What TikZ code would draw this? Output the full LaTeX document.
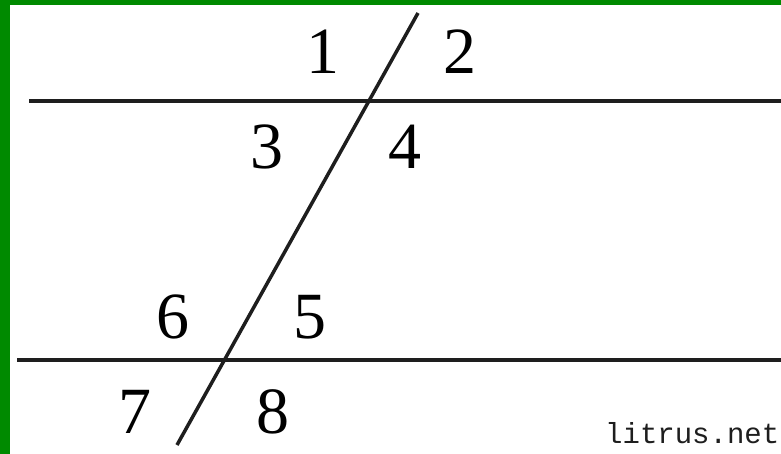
\documentclass[tikz,border=0pt]{standalone}
\usepackage{fontspec}
\setmainfont{Liberation Serif}
\newfontfamily\markfont{Liberation Mono}
\usetikzlibrary{calc}
\definecolor{cframe}{HTML}{008A00}
\definecolor{cline}{HTML}{1E1E1E}
\tikzset{
  every picture/.style={x=1pt, y=-1pt},
  ln/.style={draw=cline, line width=3.5pt},
  num/.style={inner sep=0pt, font=\fontsize{66}{66}\selectfont},
  sitemark/.style={inner sep=0pt, anchor=base west, font=\markfont\fontsize{29}{29}\selectfont, text=cline},
}

\begin{document}
\begin{tikzpicture}
  \useasboundingbox (0,0) rectangle (781,454);
  \clip (0,0) rectangle (781,454);
  \fill[white] (0,0) rectangle (781,454);
  % frame
  \fill[cframe] (0,0) rectangle (10,454);
  \fill[cframe] (0,0) rectangle (781,5);
  % parallel lines and transversal
  \coordinate (a1) at (29,101);
  \coordinate (a2) at (781,101);
  \coordinate (b1) at (17,360);
  \coordinate (b2) at (781,360);
  \coordinate (t1) at (418,13);
  \coordinate (t2) at (177,445);
  \draw[ln] (a1) -- (a2);
  \draw[ln] (b1) -- (b2);
  \draw[ln] (t1) -- (t2);
  % angle numbers
  \node[num] (n1) at (323,52) {1};
  \node[num] (n2) at (460,52) {2};
  \node[num] (n3) at (267,147) {3};
  \node[num] (n4) at (405,147) {4};
  \node[num] (n5) at (310,317) {5};
  \node[num] (n6) at (173,317) {6};
  \node[num] (n7) at (135,412) {7};
  \node[num] (n8) at (273,412) {8};
  \node[sitemark] (src) at (605,443) {litrus.net};
\end{tikzpicture}
\end{document}
